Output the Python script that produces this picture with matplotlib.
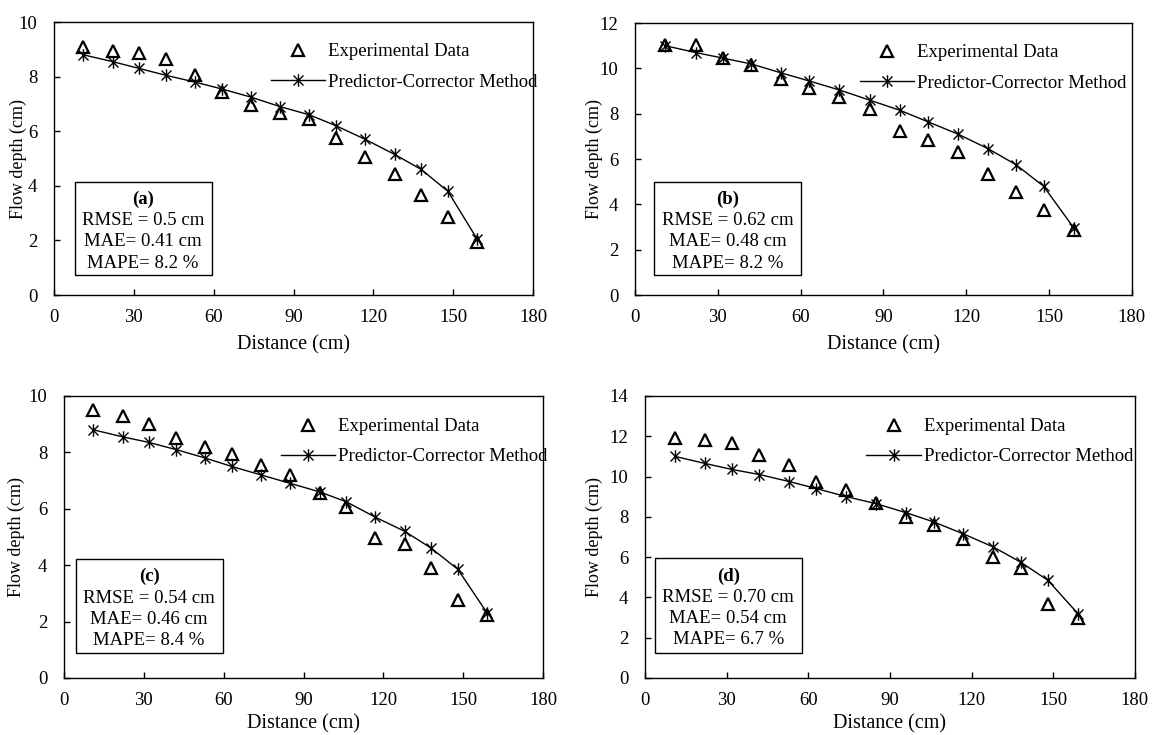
import matplotlib
matplotlib.use("Agg")
import matplotlib.pyplot as plt
from matplotlib.path import Path
from matplotlib.patches import Rectangle

plt.rcParams['font.family'] = ['Liberation Serif', 'DejaVu Serif']

# Messpunkte (Abstand in cm)
distance = [11, 22, 32, 42, 53, 63, 74, 85, 96, 106, 117, 128, 138, 148, 159]

# Fall (a)
exp_a = [9.1, 8.95, 8.85, 8.65, 8.05, 7.45, 6.95, 6.65, 6.45, 5.75, 5.05, 4.45, 3.65, 2.85, 1.95]
pc_a = [8.8, 8.55, 8.3, 8.05, 7.8, 7.55, 7.25, 6.9, 6.6, 6.2, 5.7, 5.15, 4.6, 3.8, 2.05]

# Fall (b)
exp_b = [11.05, 11.05, 10.45, 10.15, 9.55, 9.15, 8.75, 8.2, 7.25, 6.85, 6.3, 5.35, 4.55, 3.75, 2.85]
pc_b = [11.0, 10.7, 10.45, 10.2, 9.8, 9.45, 9.05, 8.6, 8.15, 7.65, 7.1, 6.45, 5.75, 4.8, 2.95]

# Fall (c)
exp_c = [9.5, 9.3, 9.0, 8.5, 8.2, 7.95, 7.55, 7.2, 6.55, 6.05, 4.95, 4.75, 3.9, 2.75, 2.25]
pc_c = [8.8, 8.55, 8.35, 8.1, 7.8, 7.5, 7.2, 6.9, 6.6, 6.25, 5.7, 5.2, 4.6, 3.85, 2.3]

# Fall (d)
exp_d = [11.9, 11.8, 11.65, 11.05, 10.55, 9.75, 9.35, 8.7, 8.0, 7.6, 6.9, 6.0, 5.45, 3.65, 3.0]
pc_d = [11.0, 10.65, 10.35, 10.1, 9.75, 9.4, 9.0, 8.65, 8.2, 7.75, 7.15, 6.5, 5.75, 4.85, 3.2]

panel_labels = ["(a)", "(b)", "(c)", "(d)"]
rmse = ["0.5", "0.62", "0.54", "0.70"]
mae = ["0.41", "0.48", "0.46", "0.54"]
mape = ["8.2", "8.2", "8.4", "6.7"]
y_max = [10, 12, 10, 14]

# Layout: Achsen in Figure-Koordinaten, Textboxen in Achsen-Koordinaten
axes_rects = [
    [0.0469, 0.5986, 0.4158, 0.3714],
    [0.5512, 0.5986, 0.4314, 0.3700],
    [0.0556, 0.0776, 0.4158, 0.3837],
    [0.5599, 0.0776, 0.4253, 0.3837],
]
box_rects = [
    [0.043, 0.073, 0.286, 0.341],
    [0.039, 0.074, 0.296, 0.341],
    [0.024, 0.089, 0.307, 0.333],
    [0.020, 0.089, 0.300, 0.337],
]
ylabel_x = [-0.056, -0.064, -0.081, -0.086]
xlabel_pad = [7, 7, 4, 4]

# Stern-Marker wie in Excel: senkrechter Strich + X
star = Path([(0, -1), (0, 1), (-0.8, -0.8), (0.8, 0.8), (-0.8, 0.8), (0.8, -0.8)],
            [Path.MOVETO, Path.LINETO, Path.MOVETO, Path.LINETO, Path.MOVETO, Path.LINETO])

experimental = [exp_a, exp_b, exp_c, exp_d]
predicted = [pc_a, pc_b, pc_c, pc_d]

fig = plt.figure(figsize=(11.52, 7.35), dpi=100)

for i in range(4):
    ax = fig.add_axes(axes_rects[i])
    ax.plot(distance, experimental[i], linestyle='none', marker='^', ms=8.5,
            mfc='none', mec='black', mew=1.6, label="Experimental Data")
    ax.plot(distance, predicted[i], color='black', lw=1.0, marker=star, ms=9,
            mec='black', mew=1.0, label="Predictor-Corrector Method")

    ax.set_xlim(0, 180)
    ax.set_ylim(0, y_max[i])
    ax.set_xticks(range(0, 181, 30))
    ax.set_yticks(range(0, y_max[i] + 1, 2))
    ax.tick_params(direction='in', length=4, width=1, labelsize=13.5)
    ax.tick_params(axis='x', pad=10)
    ax.tick_params(axis='y', pad=12)
    for s in ax.spines.values():
        s.set_linewidth(1.0)
    ax.set_xlabel("Distance (cm)", fontsize=14.5, labelpad=xlabel_pad[i])
    ax.set_ylabel("Flow depth (cm)", fontsize=13)
    ax.yaxis.set_label_coords(ylabel_x[i], 0.5)

    ax.legend(loc='upper left', bbox_to_anchor=(0.452, 0.922), frameon=False,
              fontsize=13.5, handlelength=2.9, handletextpad=0.15,
              labelspacing=0.7, borderpad=0, borderaxespad=0)

    bx, by, bw, bh = box_rects[i]
    ax.add_patch(Rectangle((bx, by), bw, bh, transform=ax.transAxes,
                           fill=False, edgecolor='black', lw=1.0))
    cx = bx + bw / 2
    cy = by + bh / 2
    lines = [panel_labels[i],
             "RMSE = " + rmse[i] + " cm",
             "MAE= " + mae[i] + " cm",
             "MAPE= " + mape[i] + " %"]
    for k, txt in enumerate(lines):
        ax.annotate(txt, xy=(cx, cy), xycoords='axes fraction',
                    xytext=(0, (1.5 - k) * 15.3 - 2), textcoords='offset points',
                    ha='center', va='center', fontsize=13.5,
                    fontweight='bold' if k == 0 else 'normal')

fig.savefig("out.png", dpi=100)
